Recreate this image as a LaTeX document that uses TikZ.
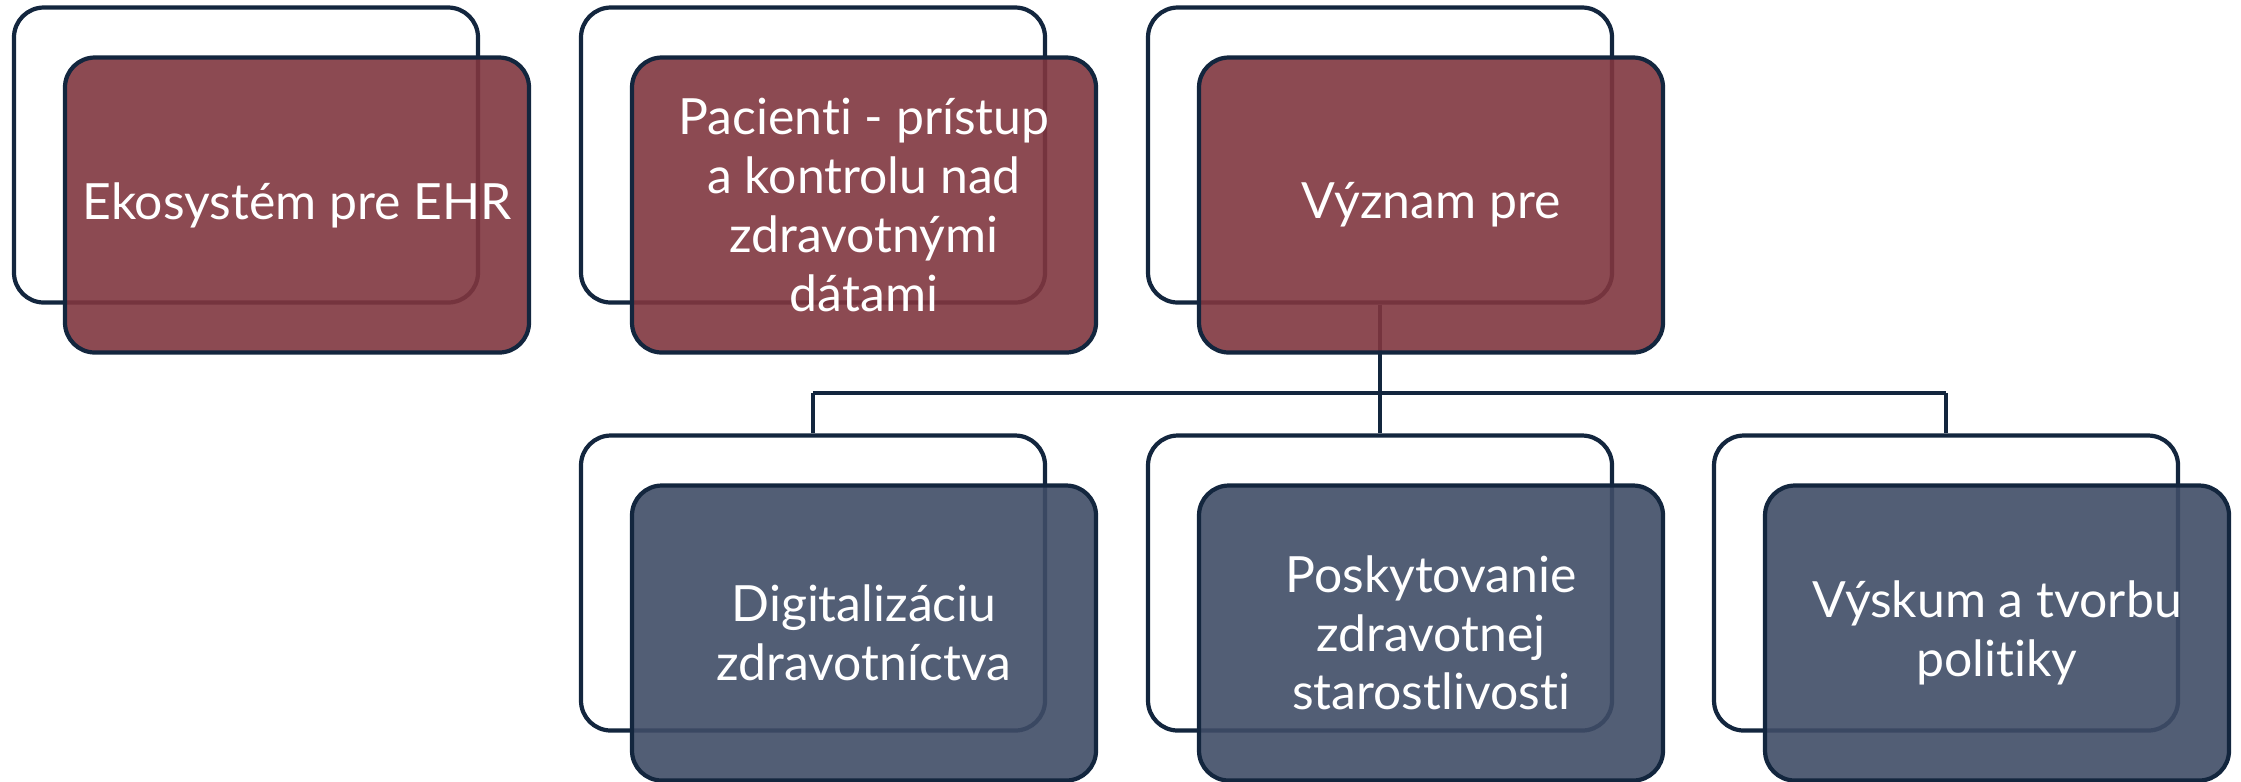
\documentclass[tikz,border=0pt]{standalone}
\usepackage{fontspec}
\setsansfont{Lato}[RawFeature=-liga]
\usetikzlibrary{positioning, calc}
\definecolor{cnavy}{HTML}{13263E}
\definecolor{cwine}{HTML}{80363F}
\definecolor{cslate}{HTML}{3F4C66}
\tikzset{
  every picture/.style={font=\sffamily, line width=1.2pt},
  back/.style={draw=cnavy, rounded corners=8.5pt, minimum width=4.64cm, minimum height=2.95cm},
  front/.style={draw=cnavy, fill=#1, fill opacity=0.9, text opacity=1, text=white, rounded corners=8.5pt,
    inner sep=2pt, minimum width=4.64cm, minimum height=2.95cm, align=center,
    font=\sffamily\fontsize{14.2}{16.7}\selectfont},
  front/.default=cwine,
  link/.style={draw=cnavy, line width=1.2pt},
}

\begin{document}
\begin{tikzpicture}
  \useasboundingbox (0,0) rectangle (22.41,-7.81);
  % ---------- outline boxes ----------
  \node[back] (b1) at (2.46, -1.55) {};
  \node[back] (b2) at (8.13, -1.55) {};
  \node[back] (b3) at (13.80, -1.55) {};
  \node[back] (b4) at (8.13, -5.83) {};
  \node[back] (b5) at (13.80, -5.83) {};
  \node[back] (b6) at (19.46, -5.83) {};
  % ---------- hierarchy lines ----------
  \coordinate (bus) at (0, -3.93);
  \draw[link] (b3.south) -- (b3.south |- bus);
  \draw[link] (b4.north |- bus) -- (b6.north |- bus);
  \foreach \c in {b4, b5, b6}
    \draw[link] (\c.north |- bus) -- (\c.north);
  % ---------- filled boxes ----------
  \node[front] (f1) at ($(b1)+(0.51,-0.50)$) {Ekosystém pre EHR};
  \node[front] (f2) at ($(b2)+(0.51,-0.50)$) {Pacienti - prístup\\a kontrolu nad\\zdravotnými\\dátami};
  \node[front] (f3) at ($(b3)+(0.51,-0.50)$) {Význam pre};
  \node[front=cslate] (f4) at ($(b4)+(0.51,-0.50)$) {Digitalizáciu\\zdravotníctva};
  \node[front=cslate] (f5) at ($(b5)+(0.51,-0.50)$) {Poskytovanie\\zdravotnej\\starostlivosti};
  \node[front=cslate] (f6) at ($(b6)+(0.51,-0.50)$) {Výskum a tvorbu\\politiky};
\end{tikzpicture}
\end{document}
